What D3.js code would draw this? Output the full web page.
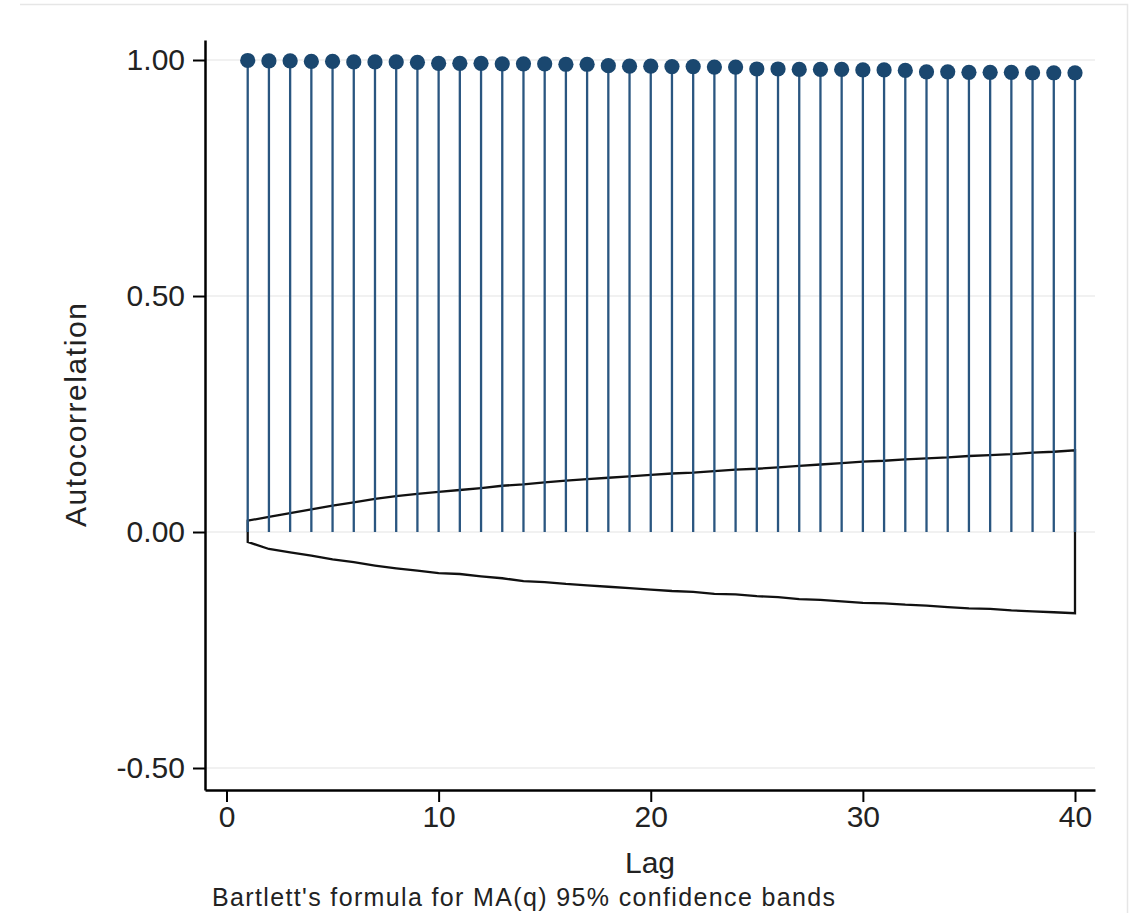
<html lang="en">

<head>
    <meta charset="UTF-8">
    <script src="https://d3js.org/d3.v7.min.js"></script>
    <title>Autocorrelation</title>
</head>

<body>
    <section></section>

    <script>
        // lags 1..40
        const lags = d3.range(1, 41);

        // autocorrelation
        const acf = [
            0.999, 0.998, 0.998, 0.997, 0.997, 0.996, 0.996, 0.996, 0.995, 0.993,
            0.993, 0.993, 0.992, 0.992, 0.992, 0.991, 0.991, 0.988, 0.987, 0.987,
            0.986, 0.986, 0.985, 0.985, 0.981, 0.981, 0.980, 0.980, 0.980, 0.979,
            0.979, 0.978, 0.975, 0.975, 0.974, 0.974, 0.974, 0.973, 0.973, 0.973
        ];

        // 95% confidence band (Bartlett), upper and lower edge per lag
        const bandUpper = [
            0.024, 0.032, 0.040, 0.048, 0.056, 0.063, 0.070, 0.076, 0.081, 0.085,
            0.089, 0.093, 0.098, 0.101, 0.105, 0.109, 0.112, 0.115, 0.118, 0.121,
            0.124, 0.126, 0.129, 0.132, 0.134, 0.137, 0.140, 0.143, 0.146, 0.149,
            0.151, 0.154, 0.156, 0.158, 0.161, 0.163, 0.165, 0.168, 0.170, 0.173
        ];
        const bandLower = [
            -0.021, -0.036, -0.043, -0.050, -0.058, -0.064, -0.071, -0.077, -0.082, -0.087,
            -0.089, -0.094, -0.098, -0.104, -0.106, -0.110, -0.113, -0.116, -0.119, -0.122,
            -0.125, -0.127, -0.131, -0.132, -0.136, -0.138, -0.142, -0.144, -0.147, -0.150,
            -0.151, -0.154, -0.156, -0.159, -0.162, -0.163, -0.166, -0.168, -0.170, -0.172
        ];

        const xTicks = [0, 10, 20, 30, 40];
        const yTicks = [-0.5, 0, 0.5, 1];

        const w = 1132;
        const h = 913;
        const navy = '#1a476f';
        const font = '"Liberation Sans", Arial, sans-serif';

        const svg = d3.select('section')
            .append('svg')
            .attr('width', w)
            .attr('height', h);

        // faint outer frame
        svg.append('path')
            .attr('d', 'M20,4.5H1127.5V913')
            .attr('fill', 'none')
            .attr('stroke', '#e6e6e6')
            .attr('stroke-width', 1.5);

        const xScale = d3.scaleLinear()
            .domain([-1.0136, 40.943])
            .range([205, 1095]);

        const yScale = d3.scaleLinear()
            .domain([-0.5466, 1.0424])
            .range([790, 40]);

        // grid
        svg.append('g')
            .selectAll('line')
            .data(yTicks)
            .enter()
            .append('line')
            .attr('x1', xScale.range()[0])
            .attr('x2', xScale.range()[1])
            .attr('y1', d => yScale(d))
            .attr('y2', d => yScale(d))
            .attr('stroke', '#ececec')
            .attr('stroke-width', 1.5);

        // confidence band outline
        const bandPts = lags.map((l, i) => [xScale(l), yScale(bandUpper[i])])
            .concat(lags.map((l, i) => [xScale(l), yScale(bandLower[i])]).reverse());

        svg.append('path')
            .attr('d', d3.line()(bandPts) + 'Z')
            .attr('fill', 'none')
            .attr('stroke', '#111')
            .attr('stroke-width', 2.3);

        // stems
        svg.append('g')
            .selectAll('line')
            .data(lags)
            .enter()
            .append('line')
            .attr('x1', d => xScale(d))
            .attr('x2', d => xScale(d))
            .attr('y1', yScale(0))
            .attr('y2', (d, i) => yScale(acf[i]))
            .attr('stroke', '#2a5680')
            .attr('stroke-width', 2.3);

        svg.append('g')
            .selectAll('circle')
            .data(lags)
            .enter()
            .append('circle')
            .attr('cx', d => xScale(d))
            .attr('cy', (d, i) => yScale(acf[i]))
            .attr('r', 7.6)
            .attr('fill', navy);

        // axes
        const xAxis = d3.axisBottom(xScale)
            .tickValues(xTicks)
            .tickSize(12)
            .tickSizeOuter(0)
            .tickPadding(4);

        const yAxis = d3.axisLeft(yScale)
            .tickValues(yTicks)
            .tickFormat(d => d.toFixed(2))
            .tickSize(12)
            .tickSizeOuter(0)
            .tickPadding(8);

        const gx = svg.append('g')
            .attr('transform', 'translate(0,790)')
            .call(xAxis);

        const gy = svg.append('g')
            .attr('transform', 'translate(205,0)')
            .call(yAxis);

        [gx, gy].forEach(g => {
            g.select('.domain').attr('stroke', '#000').attr('stroke-width', 2.5);
            g.selectAll('.tick line').attr('stroke', '#000').attr('stroke-width', 2);
            g.selectAll('.tick text')
                .attr('fill', '#222')
                .style('font-family', font)
                .style('font-size', '30px');
        });

        // titles
        svg.append('text')
            .attr('x', 650)
            .attr('y', 873)
            .attr('text-anchor', 'middle')
            .attr('fill', '#222')
            .style('font-family', font)
            .style('font-size', '30px')
            .text('Lag');

        svg.append('text')
            .attr('transform', 'translate(86,415) rotate(-90)')
            .attr('text-anchor', 'middle')
            .attr('fill', '#222')
            .attr('textLength', 224)
            .attr('lengthAdjust', 'spacing')
            .style('font-family', font)
            .style('font-size', '30px')
            .text('Autocorrelation');

        svg.append('text')
            .attr('x', 212)
            .attr('y', 906)
            .attr('fill', '#222')
            .attr('textLength', 623)
            .attr('lengthAdjust', 'spacing')
            .style('font-family', font)
            .style('font-size', '25px')
            .text("Bartlett's formula for MA(q) 95% confidence bands");

    </script>
    <style>
        body {
            margin: 0;
            background: #fff;
        }
    </style>
</body>

</html>
